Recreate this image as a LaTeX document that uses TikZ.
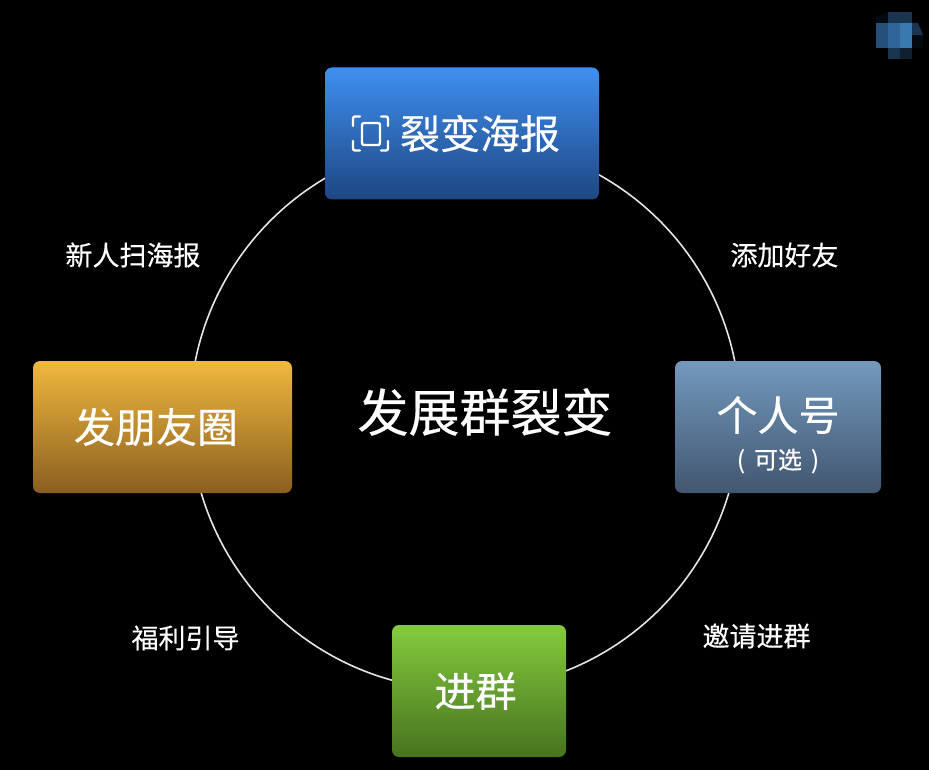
\documentclass[tikz,border=0pt]{standalone}
\usepackage{fontspec}
\setmainfont{Noto Sans CJK SC}[FakeBold=0.35]
\definecolor{pa}{HTML}{1A3550}\definecolor{pb}{HTML}{255078}\definecolor{pc}{HTML}{2F6598}\definecolor{pd}{HTML}{3A78B0}\definecolor{pe}{HTML}{050A10}\definecolor{pf}{HTML}{102030}
\definecolor{blueT}{RGB}{63,143,240}\definecolor{blueB}{RGB}{30,70,130}
\definecolor{orT}{RGB}{240,184,62}\definecolor{orB}{RGB}{138,95,32}
\definecolor{grT}{RGB}{115,153,189}\definecolor{grB}{RGB}{66,86,111}
\definecolor{grnT}{RGB}{132,203,62}\definecolor{grnB}{RGB}{71,114,31}
\tikzset{
  x=1pt,y=-1pt,
  card/.style={rectangle,rounded corners=7pt,inner sep=0pt,text=white,align=center,minimum height=132pt,font=\fontsize{40}{46}\selectfont},
  caption label/.style={text=white,inner sep=0pt,font=\fontsize{27}{30}\selectfont},
  icon line/.style={draw=white,line width=2.4pt,line cap=round,line join=round,rounded corners=2pt}
}
\begin{document}
\begin{tikzpicture}
\useasboundingbox[fill=black] (0,0) rectangle (929,770);
% pixelated mark
\fill[pe] (876,23) -- (876,17) -- (888,12) -- (888,23) -- cycle;
\fill[pa] (888,12) rectangle (912,23);
\fill[pb] (876,23) rectangle (888,48);
\fill[pc] (888,23) rectangle (900,35);
\fill[pd] (900,23) rectangle (912,48);
\fill[pc] (888,35) rectangle (900,48);
\fill[pa] (912,23) -- (918,23) -- (923,35) -- (912,35) -- cycle;
\fill[pe] (912,35) rectangle (923,48);
\fill[pa] (888,48) rectangle (900,59);
\fill[pf] (900,48) rectangle (912,59);
% ring
\node[circle,draw=white!90!black,line width=1.6pt,minimum size=550pt,inner sep=0pt] (ring) at (465,415) {};
% cards
\node[card,minimum width=274pt,top color=blueT,bottom color=blueB] (poster) at (462,133.5) {\hspace{36pt}\raisebox{-1pt}{裂变海报}};
\node[card,minimum width=259pt,top color=orT,bottom color=orB,font=\fontsize{41}{46}\selectfont] (moments) at (162.5,427) {发朋友圈\hspace{13pt}};
\node[card,minimum width=206pt,top color=grT,bottom color=grB,font=\fontsize{41}{46}\selectfont] (personal) at (778,427) {\rule{0pt}{50pt}个人号\hspace{4pt}\\[-8pt]{\fontsize{24}{28}\selectfont (\hspace{9pt}可选\hspace{9pt})}};
\node[card,minimum width=174pt,top color=grnT,bottom color=grnB,font=\fontsize{41}{46}\selectfont] (group) at (479,691) {进群\hspace{7pt}};
% scan icon
\draw[icon line] (360,116.5) -- (353,116.5) -- (353,126);
\draw[icon line] (381,116.5) -- (388,116.5) -- (388,126);
\draw[icon line] (360,150.5) -- (353,150.5) -- (353,141);
\draw[icon line] (381,150.5) -- (388,150.5) -- (388,141);
\draw[icon line] (362,123) rectangle (380,145);
% centre and captions
\node[text=white,inner sep=0pt,font=\fontsize{51}{56}\selectfont] (title) at (485,412) {发展群裂变};
\node[caption label] (c1) at (133,255) {新人扫海报};
\node[caption label] (c2) at (784.5,255) {添加好友};
\node[caption label] (c3) at (756.5,636) {邀请进群};
\node[caption label] (c4) at (185.5,638) {福利引导};
\end{tikzpicture}
\end{document}
